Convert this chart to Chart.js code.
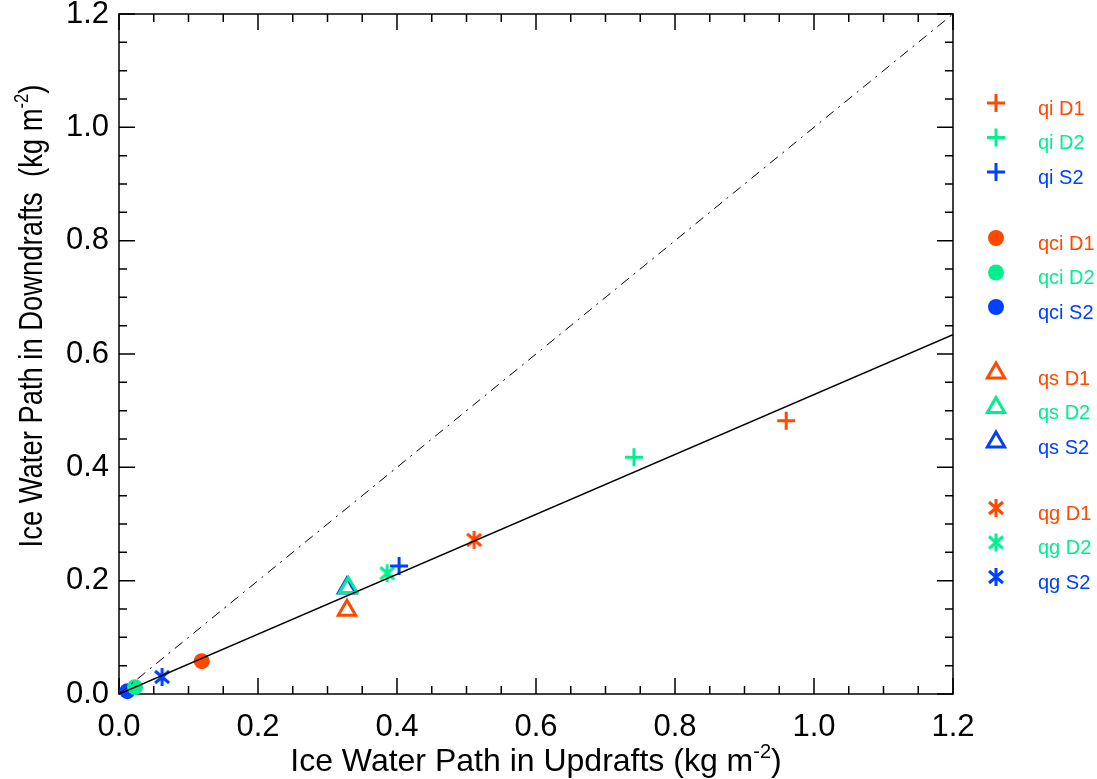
<!DOCTYPE html>
<html>
<head>
<meta charset="utf-8">
<script src="https://cdn.jsdelivr.net/npm/chart.js@4"></script>
<style>
  html, body { margin: 0; padding: 0; background: #fff; }
  #wrap { width: 1097px; height: 779px; }
</style>
</head>
<body>
<div id="wrap"><canvas id="chart" width="1097" height="779"></canvas></div>
<script>
// series (kg m-2)
const seriesNames = ['qi D1', 'qi D2', 'qi S2', 'qci D1', 'qci D2', 'qci S2',
                     'qs D1', 'qs D2', 'qs S2', 'qg D1', 'qg D2', 'qg S2'];
const updraftIWP   = [0.960, 0.741, 0.403, 0.119, 0.023, 0.012, 0.328, 0.330, 0.328, 0.511, 0.386, 0.062];
const downdraftIWP = [0.482, 0.418, 0.226, 0.058, 0.012, 0.005, 0.148, 0.188, 0.187, 0.272, 0.213, 0.030];
const markers = ['plus', 'plus', 'plus', 'circle', 'circle', 'circle',
                 'triangle', 'triangle', 'triangle', 'asterisk', 'asterisk', 'asterisk'];

const oneToOneX = [0, 1.2];
const oneToOneY = [0, 1.2];
const fitX = [0, 1.2];
const fitY = [0, 0.634];

const tickValues = [0, 0.2, 0.4, 0.6, 0.8, 1.0, 1.2];

const ORANGE = '#ff4800';
const GREEN = '#00f08e';
const BLUE = '#0040ff';
const colors = [ORANGE, GREEN, BLUE];

const FONT = '"Liberation Sans", Arial, Helvetica, sans-serif';

function makeAsterisk(color) {
    const c = document.createElement('canvas');
    c.width = 20; c.height = 22;
    const g = c.getContext('2d');
    g.strokeStyle = color;
    g.lineWidth = 3;
    g.beginPath();
    g.moveTo(10, 2); g.lineTo(10, 20);
    g.moveTo(3, 5); g.lineTo(17, 17);
    g.moveTo(17, 5); g.lineTo(3, 17);
    g.stroke();
    return c;
}

function markerStyle(kind, color) {
    if (kind === 'plus') return { pointStyle: 'cross', radius: 9, borderWidth: 3, bg: color };
    if (kind === 'circle') return { pointStyle: 'circle', radius: 8, borderWidth: 0, bg: color };
    if (kind === 'triangle') return { pointStyle: 'triangle', radius: 10, borderWidth: 3, bg: 'rgba(0,0,0,0)' };
    return { pointStyle: makeAsterisk(color), radius: 10, borderWidth: 0, bg: color };
}

const datasets = [];

datasets.push({
    label: '1:1',
    data: oneToOneX.map((x, i) => ({ x: x, y: oneToOneY[i] })),
    showLine: true,
    borderColor: '#000',
    borderWidth: 1,
    borderDash: [10, 6, 2, 6],
    pointRadius: 0
});
datasets.push({
    label: 'fit',
    data: fitX.map((x, i) => ({ x: x, y: fitY[i] })),
    showLine: true,
    borderColor: '#000',
    borderWidth: 1.6,
    pointRadius: 0
});

for (let i = 0; i < seriesNames.length; i++) {
    const color = colors[i % 3];
    const m = markerStyle(markers[i], color);
    datasets.push({
        label: seriesNames[i],
        data: [{ x: updraftIWP[i], y: downdraftIWP[i] }],
        showLine: false,
        clip: false,
        pointStyle: m.pointStyle,
        pointRadius: m.radius,
        pointBorderWidth: m.borderWidth,
        pointBorderColor: color,
        pointBackgroundColor: m.bg,
        legendColor: color
    });
}

// IDL-style frame with inward ticks on all four sides
const framePlugin = {
    id: 'frame',
    beforeDatasetsDraw(chart) {
        const ctx = chart.ctx;
        const a = chart.chartArea;
        const xs = chart.scales.x, ys = chart.scales.y;
        ctx.save();
        ctx.strokeStyle = '#000';
        ctx.lineWidth = 1.5;
        ctx.strokeRect(a.left, a.top, a.right - a.left, a.bottom - a.top);
        ctx.beginPath();
        for (let k = 0; k <= 24; k++) {
            const v = k * 0.05;
            const len = (k % 4 === 0) ? 16 : 8;
            const px = xs.getPixelForValue(v);
            ctx.moveTo(px, a.bottom); ctx.lineTo(px, a.bottom - len);
            ctx.moveTo(px, a.top); ctx.lineTo(px, a.top + len);
            const py = ys.getPixelForValue(v);
            ctx.moveTo(a.left, py); ctx.lineTo(a.left + len, py);
            ctx.moveTo(a.right, py); ctx.lineTo(a.right - len, py);
        }
        ctx.stroke();
        ctx.restore();
    }
};

function drawSupText(ctx, parts, x, y, size) {
    // parts: [text, sup, text]; drawn centred at x
    ctx.font = size + 'px ' + FONT;
    const w0 = ctx.measureText(parts[0]).width;
    const w2 = ctx.measureText(parts[2]).width;
    ctx.font = Math.round(size * 0.62) + 'px ' + FONT;
    const w1 = ctx.measureText(parts[1]).width;
    let cx = x - (w0 + w1 + w2) / 2;
    ctx.textAlign = 'left';
    ctx.textBaseline = 'alphabetic';
    ctx.font = size + 'px ' + FONT;
    ctx.fillText(parts[0], cx, y);
    cx += w0;
    ctx.font = Math.round(size * 0.62) + 'px ' + FONT;
    ctx.fillText(parts[1], cx, y - size * 0.42);
    cx += w1;
    ctx.font = size + 'px ' + FONT;
    ctx.fillText(parts[2], cx, y);
}

const titlesPlugin = {
    id: 'titles',
    afterDraw(chart) {
        const ctx = chart.ctx;
        const a = chart.chartArea;
        ctx.save();
        ctx.fillStyle = '#000';
        drawSupText(ctx, ['Ice Water Path in Updrafts (kg m', '-2', ')'], (a.left + a.right) / 2, 771, 32);
        ctx.translate(42, 316);
        ctx.rotate(-Math.PI / 2);
        ctx.scale(0.83, 1);
        drawSupText(ctx, ['Ice Water Path in Downdrafts  (kg m', '-2', ')'], 0, 0, 33);
        ctx.restore();
    }
};

// legend on the right, three rows per group
const legendPlugin = {
    id: 'sideLegend',
    afterDraw(chart) {
        const ctx = chart.ctx;
        let row = 0;
        chart.data.datasets.forEach((ds) => {
            if (!ds.legendColor) return;
            const group = Math.floor(row / 3);
            const y = 103 + group * 135 + (row % 3) * 34.5;
            ctx.save();
            ctx.fillStyle = ds.pointBackgroundColor;
            ctx.strokeStyle = ds.pointBorderColor;
            ctx.lineWidth = ds.pointBorderWidth;
            Chart.helpers.drawPoint(ctx, {
                pointStyle: ds.pointStyle,
                radius: ds.pointRadius,
                borderWidth: ds.pointBorderWidth,
                rotation: 0
            }, 996, y);
            ctx.fillStyle = ds.legendColor;
            ctx.font = '20px ' + FONT;
            ctx.textAlign = 'left';
            ctx.textBaseline = 'middle';
            ctx.fillText(ds.label, 1038, y + 6);
            ctx.restore();
            row++;
        });
    }
};

document.addEventListener('DOMContentLoaded', function () {
    const canvas = document.getElementById('chart');
    new Chart(canvas, {
        type: 'scatter',
        data: { datasets: datasets },
        options: {
            responsive: false,
            animation: false,
            events: [],
            layout: { padding: { left: 0, top: 14, right: 144, bottom: 0 } },
            plugins: {
                legend: { display: false },
                tooltip: { enabled: false }
            },
            scales: {
                x: {
                    type: 'linear',
                    min: 0, max: 1.2,
                    afterBuildTicks(scale) { scale.ticks = tickValues.map(v => ({ value: v })); },
                    afterFit(scale) {
                        scale.height = 85;
                        scale.paddingLeft = 0; scale.paddingRight = 0;
                    },
                    grid: { display: false, drawTicks: false },
                    border: { display: false },
                    ticks: {
                        padding: 15,
                        color: '#000',
                        font: { family: FONT, size: 31 },
                        callback: v => v.toFixed(1)
                    }
                },
                y: {
                    type: 'linear',
                    min: 0, max: 1.2,
                    afterBuildTicks(scale) { scale.ticks = tickValues.map(v => ({ value: v })); },
                    afterFit(scale) {
                        scale.width = 119;
                        scale.paddingTop = 0; scale.paddingBottom = 0;
                    },
                    grid: { display: false, drawTicks: false },
                    border: { display: false },
                    ticks: {
                        padding: 10,
                        color: '#000',
                        font: { family: FONT, size: 31 },
                        callback: v => v.toFixed(1)
                    }
                }
            }
        },
        plugins: [framePlugin, titlesPlugin, legendPlugin]
    });
});
</script>
</body>
</html>
